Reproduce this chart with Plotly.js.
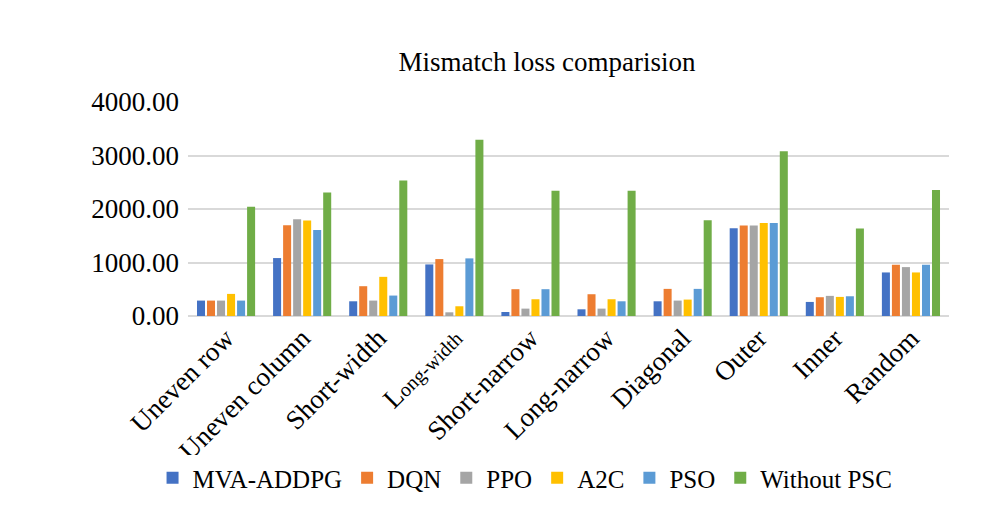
<!DOCTYPE html>
<html>
<head>
<meta charset="utf-8">
<script src="https://cdn.plot.ly/plotly-3.0.1.min.js"></script>
<style>html,body{margin:0;padding:0;background:#fff;}#chart{width:1002px;height:507px;}</style>
</head>
<body>
<div id="chart"></div>
<script>
const categories = ["Uneven row","Uneven column","Short-width","Long-width","Short-narrow","Long-narrow","Diagonal","Outer","Inner","Random"];
const tickLabels = ["Uneven row","Uneven column","Short-width","L<span style='font-size:20px'>ong-width</span>","Short-narrow","Long-narrow","Diagonal","Outer","Inner","Random"];
const seriesNames = ["MVA-ADDPG","DQN","PPO","A2C","PSO","Without PSC"];
const mvaAddpg   = [288, 1083, 275, 964, 75, 125, 275, 1640, 263, 814];
const dqn        = [288, 1696, 557, 1064, 501, 407, 507, 1690, 351, 958];
const ppo        = [288, 1809, 288, 69, 138, 138, 288, 1690, 376, 914];
const a2c        = [413, 1784, 732, 182, 313, 313, 307, 1740, 357, 814];
const pso        = [288, 1609, 382, 1077, 501, 275, 507, 1740, 369, 958];
const withoutPsc = [2041, 2310, 2535, 3293, 2341, 2341, 1790, 3080, 1634, 2354];
const colors = ["#4472C4","#ED7D31","#A5A5A5","#FFC000","#5B9BD5","#70AD47"];
const allSeries = [mvaAddpg, dqn, ppo, a2c, pso, withoutPsc];

const font = "Liberation Serif";
const traces = allSeries.map((vals, i) => ({
  type: "bar",
  name: seriesNames[i],
  x: categories,
  y: vals,
  marker: {color: colors[i]},
  hoverinfo: "x+y+name"
}));

const layout = {
  width: 1002, height: 507,
  paper_bgcolor: "#fff", plot_bgcolor: "#fff",
  font: {family: font, color: "#000"},
  margin: {l: 188, r: 53, t: 102, b: 191},
  title: {text: "Mismatch loss comparision", font: {family: font, size: 27, color: "#000"},
          x: 0.546, xref: "container", xanchor: "center", y: 1 - 62/507, yref: "container", yanchor: "middle"},
  barmode: "group",
  bargap: 0.21,
  bargroupgap: 0.2,
  xaxis: {
    type: "category",
    tickvals: categories, ticktext: tickLabels,
    tickangle: -45,
    tickfont: {family: font, size: 27, color: "#000"},
    showgrid: false, zeroline: false, showline: false, ticks: ""
  },
  yaxis: {
    range: [0, 4000],
    dtick: 1000,
    tickformat: ".2f",
    tickfont: {family: font, size: 27, color: "#000"},
    showgrid: true, gridcolor: "#d9d9d9", gridwidth: 2,
    zeroline: true, zerolinecolor: "#d9d9d9", zerolinewidth: 2,
    showline: false, ticks: "", ticklabelstandoff: 8
  },
  showlegend: true,
  legend: {
    orientation: "h",
    xref: "container", yref: "container",
    x: 0.524, xanchor: "center",
    y: 1 - 478/507, yanchor: "middle",
    font: {family: font, size: 25, color: "#000"},
    itemwidth: 30,
    tracegroupgap: 0
  }
};

Plotly.newPlot("chart", traces, layout, {displayModeBar: false, staticPlot: true});
</script>
</body>
</html>
